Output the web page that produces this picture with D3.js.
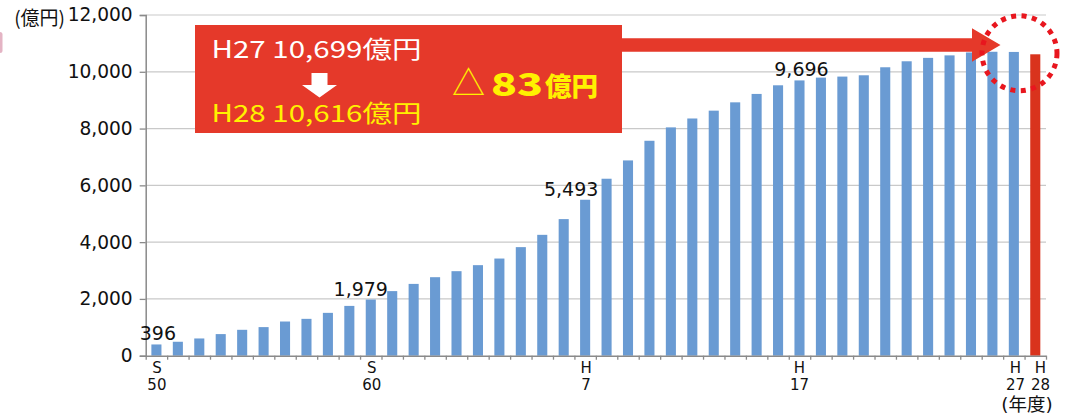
<!DOCTYPE html>
<html><head><meta charset="utf-8">
<script src="https://cdn.jsdelivr.net/npm/d3@7"></script>
<style>
html,body{margin:0;padding:0;background:#fff;}
svg{display:block;}
</style>
</head><body>
<svg id="c" width="1067" height="416"></svg>
<script>
// ---- data ----
const years = ["S50","S51","S52","S53","S54","S55","S56","S57","S58","S59","S60","S61","S62","S63",
  "H1","H2","H3","H4","H5","H6","H7","H8","H9","H10","H11","H12","H13","H14","H15","H16","H17",
  "H18","H19","H20","H21","H22","H23","H24","H25","H26","H27","H28"];
const values = [396,491,607,761,912,1007,1204,1298,1509,1754,1979,2275,2529,2765,
  2977,3189,3422,3824,4257,4811,5493,6233,6878,7570,8042,8355,8631,8924,9220,9524,9696,
  9795,9831,9877,10159,10370,10490,10578,10680,10705,10699,10616];
const yTicks = [0,2000,4000,6000,8000,10000,12000];
const xTickLabels = [["S50","S","50"],["S60","S","60"],["H7","H","7"],["H17","H","17"],["H27","H","27"],["H28","H","28"]];
const valueLabels = ["S50","S60","H7","H17"];
const highlightYear = "H28";
const yUnit = "(億円)";
const xUnit = "(年度)";
const boxLine1 = "H27 10,699億円";
const boxLine2 = "H28 10,616億円";
const deltaMark = "△";
const deltaValue = "83";
const deltaUnit = "億円";

// ---- layout ----
const svg = d3.select("#c");
const pL = 145.7, pR = 1046, pT = 15, pB = 355.7;
const x = d3.scaleBand().domain(years).range([pL, pR]).paddingInner(0.53).paddingOuter(0.265);
const xi = d3.scaleLinear().domain([0, years.length]).range([pL, pR]);
const y = d3.scaleLinear().domain([0, 12000]).range([pB, pT]);
const num = d3.format(",");
const blue = "#6a9bd3", red = "#e5392a", barRed = "#d9331d", yellow = "#fff100";

// gridlines
svg.append("g").selectAll("line").data(yTicks.filter(d => d > 0)).join("line")
  .attr("x1", pL).attr("x2", pR).attr("y1", d => y(d)).attr("y2", d => y(d))
  .attr("stroke", "#c9c9c9").attr("stroke-width", 1.2);

// bars
svg.append("g").selectAll("rect").data(years).join("rect")
  .attr("x", d => x(d)).attr("width", x.bandwidth())
  .attr("y", (d, i) => y(values[i])).attr("height", (d, i) => pB - y(values[i]))
  .attr("fill", d => d === highlightYear ? barRed : blue);

// y axis
const yAxis = svg.append("g").attr("transform", `translate(${pL},0)`)
  .call(d3.axisLeft(y).tickValues(yTicks).tickFormat(num).tickSize(6).tickPadding(7));
yAxis.select(".domain").attr("stroke", "#8a8a8a").attr("stroke-width", 1.5);
yAxis.selectAll(".tick line").attr("stroke", "#8a8a8a").attr("stroke-width", 1.3);
yAxis.selectAll(".tick text").attr("font-family", "DejaVu Sans").attr("font-size", 18.6).attr("fill", "#111");

// x axis (ticks at band boundaries)
const xAxis = svg.append("g").attr("transform", `translate(0,${pB})`)
  .call(d3.axisBottom(xi).tickValues(d3.range(0, years.length + 1)).tickFormat("").tickSizeInner(4).tickSizeOuter(0));
xAxis.select(".domain").attr("stroke", "#8a8a8a").attr("stroke-width", 1.5);
xAxis.selectAll(".tick line").attr("stroke", "#8a8a8a").attr("stroke-width", 1.3);

// x labels
const xShift = {S50: 0.5, S60: 1, H7: 1, H17: 0, H27: 1.6, H28: 5.2};
const xl = svg.append("g").attr("font-family", "DejaVu Sans").attr("font-size", 15).attr("fill", "#111").attr("text-anchor", "middle");
xTickLabels.forEach(([k, a, b]) => {
  const cx = x(k) + x.bandwidth() / 2 + xShift[k];
  xl.append("text").attr("x", cx).attr("y", 372.5).text(a);
  xl.append("text").attr("x", cx).attr("y", 389.5).text(b);
});
svg.append("text").attr("x", 1027).attr("y", 411).attr("text-anchor", "middle")
  .attr("font-family", "DejaVu Sans, 'Noto Sans CJK JP'").attr("font-size", 18.5).attr("fill", "#111").text(xUnit);
svg.append("text").attr("x", 65).attr("y", 25).attr("text-anchor", "end")
  .attr("font-family", "Noto Sans CJK JP").attr("font-size", 19).attr("fill", "#111").text(yUnit);

// value labels
const labelShift = {S50: 1.5, S60: -10, H7: -14, H17: 2};
svg.append("g").selectAll("text").data(valueLabels).join("text")
  .attr("x", d => x(d) + x.bandwidth() / 2 + labelShift[d])
  .attr("y", d => y(values[years.indexOf(d)]) - 4)
  .attr("text-anchor", "middle").attr("font-family", "DejaVu Sans").attr("font-size", 19).attr("fill", "#111")
  .text(d => num(values[years.indexOf(d)]));

// annotation box
svg.append("rect").attr("x", 195).attr("y", 25).attr("width", 427).attr("height", 108).attr("fill", red);
svg.append("text").attr("x", 211.5).attr("y", 58).attr("font-family", "Noto Sans CJK JP").attr("font-size", 24)
  .attr("textLength", 210).attr("lengthAdjust", "spacingAndGlyphs").attr("fill", "#fff").text(boxLine1);
svg.append("text").attr("x", 211.5).attr("y", 122).attr("font-family", "Noto Sans CJK JP").attr("font-size", 24)
  .attr("textLength", 210).attr("lengthAdjust", "spacingAndGlyphs").attr("fill", yellow).text(boxLine2);
// white down arrow
svg.append("path").attr("d", "M311.5,73 L327.5,73 L327.5,85 L337,85 L319.5,97.5 L302,85 L311.5,85 Z").attr("fill", "#fff");
// delta
svg.append("text").attr("x", 452).attr("y", 95).attr("font-family", "Noto Sans CJK JP").attr("font-size", 33)
  .attr("fill", yellow).text(deltaMark);
svg.append("text").attr("x", 491).attr("y", 96).attr("font-family", "Noto Sans CJK JP").attr("font-weight", 900)
  .attr("font-size", 31).attr("textLength", 52).attr("lengthAdjust", "spacingAndGlyphs").attr("fill", yellow).text(deltaValue);
svg.append("text").attr("x", 545).attr("y", 96).attr("font-family", "Noto Sans CJK JP").attr("font-weight", 900)
  .attr("font-size", 26.5).attr("fill", yellow).text(deltaUnit);

// long red arrow
svg.append("path").attr("d", "M621,38.3 L972,38.3 L972,28.3 L1000.5,45 L972,61.7 L972,51.7 L621,51.7 Z").attr("fill", red);

// dotted circle
svg.append("circle").attr("cx", 1019.5).attr("cy", 53.3).attr("r", 37.5)
  .attr("fill", "none").attr("stroke", "#e8161e").attr("stroke-width", 5).attr("stroke-dasharray", "5 5.5");

// faint mark at left edge
svg.append("rect").attr("x", -3).attr("y", 32).attr("width", 5.5).attr("height", 21).attr("rx", 2.5).attr("fill", "#e4b4c4");
</script>
</body></html>
